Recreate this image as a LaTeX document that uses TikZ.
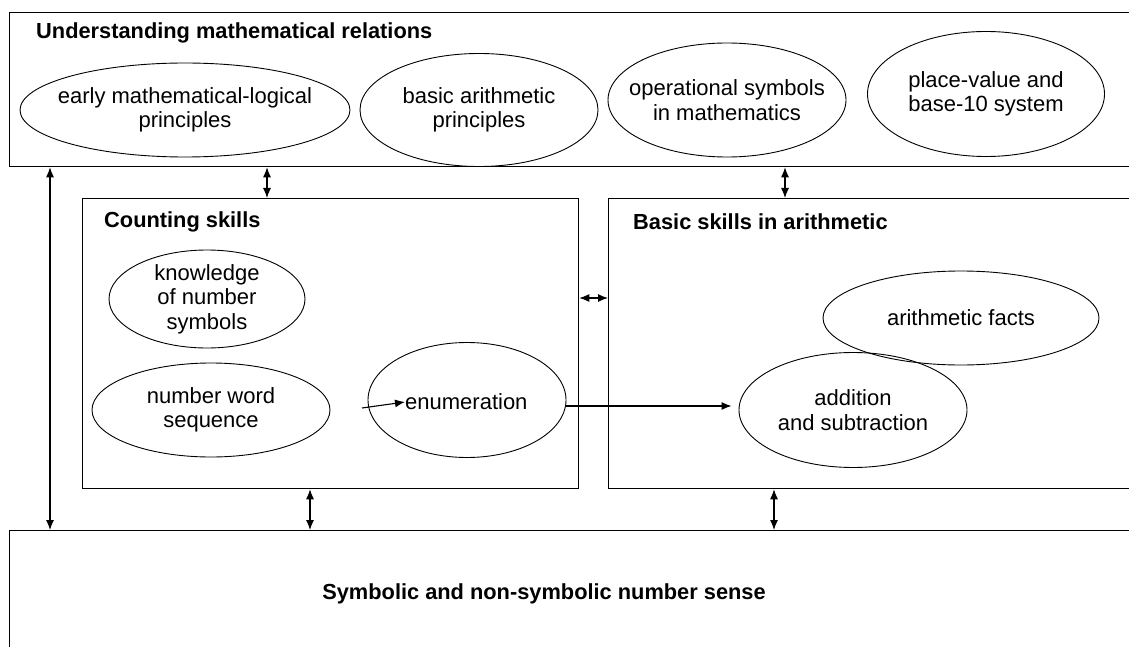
\documentclass[tikz,border=0pt]{standalone}
\usepackage{fontspec}
\setmainfont{Liberation Sans}
\usetikzlibrary{shapes.geometric,arrows.meta}
\tikzset{
  box/.style={draw, line width=1.3pt, rectangle, anchor=north west, inner sep=0pt},
  oval/.style={draw, line width=0.9pt, ellipse, inner sep=0pt},
  ovaltext/.style={inner sep=0pt, align=center, font=\fontsize{22}{24.5}\selectfont},
  title/.style={anchor=west, inner sep=0pt, font=\fontsize{21.8}{24}\selectfont\bfseries},
  link/.style={line width=1.1pt, {Latex[length=10pt,width=8pt]}-{Latex[length=10pt,width=8pt]}},
  onearrow/.style={line width=1.1pt, -{Latex[length=10pt,width=8pt]}}
}
\begin{document}
\begin{tikzpicture}[x=1pt,y=-1pt]
\useasboundingbox (0,0) rectangle (1129,647);
\clip (0,0) rectangle (1129,647);
% boxes
\node[box, minimum width=1140pt, minimum height=154pt] (top) at (9,12) {};
\node[box, minimum width=496pt, minimum height=290pt] (cnt) at (82,198) {};
\node[box, minimum width=540pt, minimum height=290pt] (bas) at (608,198) {};
\node[box, minimum width=1140pt, minimum height=140pt] (bot) at (9,530) {};
% titles
\node[title] (t1) at (36,33) {Understanding mathematical relations};
\node[title] (t2) at (104,222) {Counting skills};
\node[title] (t3) at (633,222) {Basic skills in arithmetic};
\node[title, anchor=center] (t4) at (544,594) {Symbolic and non-symbolic number sense};
% top ellipses
\node[oval, minimum width=330pt, minimum height=94pt] (e1) at (185,110) {};
\node[ovaltext] (e1t) at (e1.center) {early mathematical-logical\\principles};
\node[oval, minimum width=238pt, minimum height=113pt] (e2) at (479,110) {};
\node[ovaltext] (e2t) at (e2.center) {basic arithmetic\\principles};
\node[oval, minimum width=238pt, minimum height=114pt] (e3) at (727,100) {};
\node[ovaltext] (e3t) at (e3.center) {operational symbols\\in mathematics};
\node[oval, minimum width=237pt, minimum height=125pt] (e4) at (986,94) {};
\node[ovaltext] (e4t) at (e4.center) {place-value and\\base-10 system};
% counting ellipses
\node[oval, minimum width=196pt, minimum height=98pt] (kns) at (207,299) {};
\node[ovaltext] (knst) at (kns.center) {knowledge\\of number\\symbols};
\node[oval, minimum width=238pt, minimum height=94pt] (nws) at (211,410) {};
\node[ovaltext] (nwst) at (nws.center) {number word\\sequence};
\node[oval, minimum width=198pt, minimum height=115pt] (enu) at (467,400) {};
\node[ovaltext, anchor=west] (enut) at (405,402) {enumeration};
% basic ellipses
\node[oval, minimum width=276pt, minimum height=94pt] (af) at (961,318) {};
\node[ovaltext] (aft) at (af.center) {arithmetic facts};
\node[oval, minimum width=228pt, minimum height=115pt] (add) at (853,410) {};
\node[ovaltext] (addt) at (add.center) {addition\\and subtraction};
% coordinates for arrows
\coordinate (c1) at (50,0);
\coordinate (c2) at (267,0);
\coordinate (c3) at (785,0);
\coordinate (c4) at (310,0);
\coordinate (c5) at (774,0);
\coordinate (c6) at (0,298);
\coordinate (c7) at (0,406);
\coordinate (s1) at (362,408);
% arrows
\draw[link] (top.south -| c1) -- (bot.north -| c1);
\draw[link] (top.south -| c2) -- (cnt.north -| c2);
\draw[link] (top.south -| c3) -- (bas.north -| c3);
\draw[link] (cnt.south -| c4) -- (bot.north -| c4);
\draw[link] (bas.south -| c5) -- (bot.north -| c5);
\draw[link] (cnt.east |- c6) -- (bas.west |- c6);
\draw[onearrow] (s1) -- (enut.west);
\draw[onearrow, shorten >=7pt] (enu.east |- c7) -- (add.west |- c7);
\end{tikzpicture}
\end{document}
